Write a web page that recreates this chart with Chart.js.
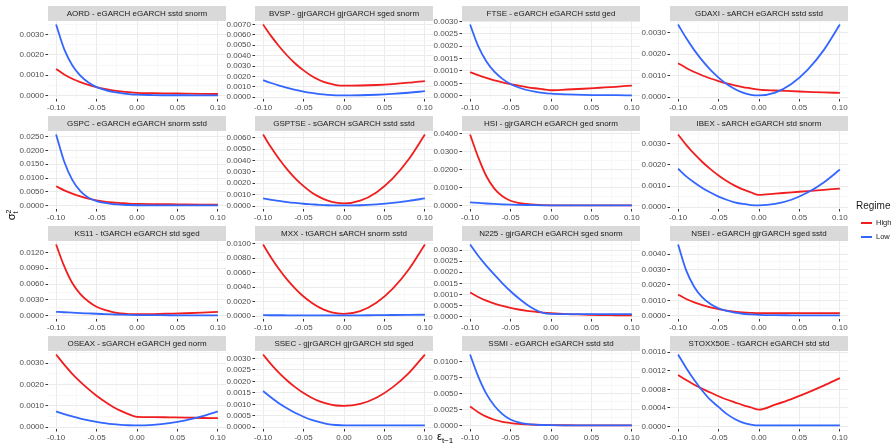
<!DOCTYPE html>
<html>
<head>
<meta charset="utf-8">
<script src="https://cdn.jsdelivr.net/npm/chart.js@4.4.1/dist/chart.umd.min.js"></script>
<style>
  body { margin: 0; background: #fff; font-family: "Liberation Sans", Arial, sans-serif; }
  #page { position: relative; width: 894px; height: 447px; overflow: hidden; background: #fff; }
  #page canvas { position: absolute; }
  .strip { position: absolute; width: 178px; height: 15px; line-height: 15px; background: #d9d9d9;
           color: #1a1a1a; font-size: 8px; text-align: center; white-space: nowrap; z-index: 2;
           will-change: transform; }
  .xtitle { position: absolute; left: 437px; top: 430px; font-size: 11px; color: #000; }
  .xtitle sub { font-size: 8px; vertical-align: -3px; }
  .ytitle { position: absolute; left: -3px; top: 208px; font-size: 11px; color: #000;
            transform: rotate(-90deg); transform-origin: center; width: 30px; text-align: center; }
  .ss { display: inline-block; vertical-align: -3px; font-size: 7px; line-height: 7px; text-align: left; }
  .legend { position: absolute; left: 856px; top: 200px; color: #1a1a1a; }
  .legend .ttl { font-size: 10px; margin-bottom: 5px; }
  .legend .item { font-size: 7.5px; height: 14px; line-height: 14px; white-space: nowrap; }
  .legend .key { display: inline-block; width: 11px; height: 2px; vertical-align: middle; margin: 0 4px 0 5px; }
</style>
</head>
<body>
<div id="page"></div>
<script>
// news impact: sigma^2_t against eps_{t-1}
const epsilon = [-0.10, -0.09, -0.08, -0.07, -0.06, -0.05, -0.04, -0.03, -0.02, -0.01, 0, 0.02, 0.04, 0.06, 0.08, 0.10];
const xTicks = [-0.10, -0.05, 0, 0.05, 0.10];

const panelTitles = [
  'AORD - eGARCH eGARCH sstd snorm', 'BVSP - gjrGARCH gjrGARCH sged snorm',
  'FTSE - eGARCH eGARCH sstd ged', 'GDAXI - sARCH eGARCH sstd sstd',
  'GSPC - eGARCH eGARCH snorm sstd', 'GSPTSE - sGARCH sGARCH sstd sstd',
  'HSI - gjrGARCH eGARCH ged snorm', 'IBEX - sARCH eGARCH std snorm',
  'KS11 - tGARCH eGARCH std sged', 'MXX - tGARCH sARCH snorm sstd',
  'N225 - gjrGARCH eGARCH sged snorm', 'NSEI - eGARCH gjrGARCH sged sstd',
  'OSEAX - sGARCH eGARCH ged norm', 'SSEC - gjrGARCH gjrGARCH std sged',
  'SSMI - eGARCH eGARCH sstd std', 'STOXX50E - tGARCH eGARCH std std'
];
// y tick spacing per panel
const tickSteps = [0.001, 0.001, 0.0005, 0.001, 0.005, 0.001, 0.01, 0.001,
                   0.003, 0.002, 0.0005, 0.001, 0.001, 0.0005, 0.0025, 0.0004];

const aordHigh = [0.00131, 0.00104, 0.00083, 0.00066, 0.00053, 0.00042, 0.00033, 0.00026, 0.00021, 0.00017, 0.00014, 0.00012, 0.00011, 0.00010, 0.00009, 0.00008];
const aordLow  = [0.00348, 0.00228, 0.00149, 0.00098, 0.00064, 0.00042, 0.00028, 0.00018, 0.00012, 0.00008, 0.00005, 0.00003, 0.00002, 0.00002, 0.00001, 0.00001];
const bvspHigh = [0.0070, 0.00588, 0.00488, 0.00399, 0.00322, 0.00258, 0.00204, 0.00163, 0.00134, 0.00116, 0.0011, 0.00112, 0.00117, 0.00126, 0.00139, 0.00155];
const bvspLow  = [0.00164, 0.00136, 0.00111, 0.00089, 0.00069, 0.00053, 0.0004, 0.00029, 0.00022, 0.00017, 0.00016, 0.00018, 0.00023, 0.00031, 0.00042, 0.00057];
const ftseHigh = [0.00095, 0.00083, 0.00072, 0.00062, 0.00054, 0.00047, 0.00041, 0.00035, 0.0003, 0.00026, 0.00022, 0.00025, 0.00028, 0.00032, 0.00036, 0.00041];
const ftseLow  = [0.00287, 0.002, 0.00139, 0.00097, 0.00068, 0.00047, 0.00033, 0.00023, 0.00016, 0.00011, 0.00008, 0.00005, 0.00003, 0.00002, 0.00002, 0.00001];
const gdaxiHigh = [0.00158, 0.00136, 0.00117, 0.00101, 0.00087, 0.00075, 0.00064, 0.00055, 0.00047, 0.00041, 0.00035, 0.00031, 0.00028, 0.00025, 0.00022, 0.0002];
const gdaxiLow  = [0.00338, 0.00275, 0.00219, 0.0017, 0.00127, 0.00091, 0.00061, 0.00038, 0.00021, 0.00011, 0.00008, 0.00021, 0.00061, 0.00127, 0.00219, 0.00338];
const gspcHigh = [0.0070, 0.0055, 0.0043, 0.0033, 0.0025, 0.0019, 0.0014, 0.0011, 0.0009, 0.0007, 0.0006, 0.0005, 0.00045, 0.0004, 0.00035, 0.0003];
const gspcLow  = [0.0258, 0.0160, 0.0093, 0.0052, 0.0028, 0.0016, 0.00093, 0.00053, 0.0003, 0.00018, 0.0001, 0.00005, 0.00003, 0.00002, 0.00002, 0.00002];
const gsptseHigh = [0.00629, 0.00514, 0.00411, 0.0032, 0.00241, 0.00175, 0.0012, 0.00078, 0.00047, 0.00029, 0.00023, 0.00047, 0.0012, 0.00241, 0.00411, 0.00629];
const gsptseLow  = [0.00067, 0.00055, 0.00045, 0.00035, 0.00027, 0.0002, 0.00015, 0.0001, 0.00007, 0.00006, 0.00005, 0.00007, 0.00015, 0.00027, 0.00045, 0.00067];
const hsiHigh = [0.0396, 0.027, 0.0165, 0.0095, 0.0052, 0.0027, 0.0015, 0.0009, 0.0005, 0.0003, 0.0002, 0.00015, 0.00012, 0.0001, 0.0001, 0.0001];
const hsiLow  = [0.0018, 0.0015, 0.0012, 0.00095, 0.00075, 0.00058, 0.00045, 0.00035, 0.00027, 0.0002, 0.00015, 0.00012, 0.0001, 0.0001, 0.0001, 0.0001];
const ibexHigh = [0.00344, 0.00295, 0.00252, 0.00214, 0.0018, 0.0015, 0.00124, 0.00102, 0.00084, 0.0007, 0.00058, 0.00064, 0.0007, 0.00076, 0.00082, 0.00088];
const ibexLow  = [0.00182, 0.00146, 0.00117, 0.00091, 0.00069, 0.0005, 0.00035, 0.00023, 0.00015, 0.0001, 0.00008, 0.00015, 0.00035, 0.00069, 0.00117, 0.00178];
const ks11High = [0.0135, 0.0094, 0.0062, 0.0041, 0.0027, 0.0017, 0.0011, 0.0007, 0.00045, 0.00033, 0.0003, 0.00033, 0.0004, 0.00048, 0.0006, 0.00075];
const ks11Low  = [0.00075, 0.00067, 0.0006, 0.00052, 0.00045, 0.00038, 0.00032, 0.00026, 0.0002, 0.00016, 0.00013, 0.00011, 0.0001, 0.00008, 0.00007, 0.00006];
const mxxHigh = [0.0099, 0.00808, 0.00644, 0.005, 0.00376, 0.0027, 0.00184, 0.00116, 0.00068, 0.0004, 0.0003, 0.00068, 0.00184, 0.00376, 0.00644, 0.0099];
const mxxLow  = [0.00012, 0.00011, 0.00011, 0.0001, 0.0001, 0.0001, 0.00009, 0.00009, 0.00009, 0.00008, 0.00008, 0.0001, 0.00012, 0.00014, 0.00016, 0.00018];
const n225High = [0.00108, 0.00088, 0.00071, 0.00058, 0.00047, 0.00038, 0.00031, 0.00025, 0.00021, 0.00017, 0.00014, 0.0001, 0.00008, 0.00006, 0.00005, 0.00004];
const n225Low  = [0.00326, 0.00275, 0.0023, 0.00189, 0.0015, 0.00114, 0.00082, 0.00054, 0.00031, 0.00016, 0.00011, 0.0001, 0.0001, 0.0001, 0.0001, 0.0001];
const nseiHigh = [0.00138, 0.00109, 0.00087, 0.00069, 0.00054, 0.00043, 0.00034, 0.00027, 0.00022, 0.00019, 0.00017, 0.00017, 0.00017, 0.00017, 0.00017, 0.00017];
const nseiLow  = [0.00462, 0.00294, 0.00187, 0.00119, 0.00076, 0.00048, 0.00031, 0.0002, 0.00013, 0.00009, 0.00006, 0.00004, 0.00003, 0.00002, 0.00002, 0.00002];
const oseaxHigh = [0.0034, 0.00293, 0.0025, 0.00212, 0.00178, 0.00147, 0.0012, 0.00096, 0.00076, 0.0006, 0.00048, 0.00047, 0.00046, 0.00045, 0.00043, 0.00042];
const oseaxLow  = [0.00074, 0.00061, 0.0005, 0.0004, 0.00032, 0.00025, 0.00019, 0.00014, 0.00011, 0.00009, 0.00008, 0.00011, 0.00019, 0.00032, 0.0005, 0.00074];
const ssecHigh = [0.00317, 0.00274, 0.00236, 0.00203, 0.00174, 0.00149, 0.00129, 0.00113, 0.00102, 0.00095, 0.00093, 0.00102, 0.00129, 0.00174, 0.00236, 0.00317];
const ssecLow  = [0.00158, 0.0013, 0.00104, 0.00082, 0.00062, 0.00046, 0.00032, 0.00022, 0.00014, 0.0001, 0.00008, 0.00008, 0.00008, 0.00008, 0.00008, 0.00008];
const ssmiHigh = [0.0030, 0.0021, 0.0014, 0.00092, 0.0006, 0.00041, 0.00028, 0.0002, 0.00014, 0.0001, 0.00008, 0.00006, 0.00005, 0.00004, 0.00004, 0.00003];
const ssmiLow  = [0.0111, 0.0077, 0.005, 0.0031, 0.0018, 0.00095, 0.0005, 0.00028, 0.00016, 0.0001, 0.00007, 0.00005, 0.00004, 0.00003, 0.00003, 0.00003];
const stoxxHigh = [0.00111, 0.001, 0.0009, 0.00081, 0.00073, 0.00065, 0.00058, 0.00052, 0.00046, 0.00041, 0.00036, 0.00047, 0.00059, 0.00073, 0.00088, 0.00104];
const stoxxLow  = [0.00155, 0.00126, 0.001, 0.00077, 0.00057, 0.00042, 0.00027, 0.00016, 0.00008, 0.00004, 0.00002, 0.00002, 0.00002, 0.00002, 0.00002, 0.00002];

const highSeries = [aordHigh, bvspHigh, ftseHigh, gdaxiHigh, gspcHigh, gsptseHigh, hsiHigh, ibexHigh,
                    ks11High, mxxHigh, n225High, nseiHigh, oseaxHigh, ssecHigh, ssmiHigh, stoxxHigh];
const lowSeries = [aordLow, bvspLow, ftseLow, gdaxiLow, gspcLow, gsptseLow, hsiLow, ibexLow,
                   ks11Low, mxxLow, n225Low, nseiLow, oseaxLow, ssecLow, ssmiLow, stoxxLow];

const HIGH_COL = '#F01E1E';
const LOW_COL = '#3366FF';
const FONT = '"Liberation Sans", Arial, sans-serif';

// facet geometry
const PANEL_W = 178, PANEL_H = 78;
const AXIS_W = 40, AXIS_H = 16, PAD_T = 10, PAD_R = 12;
const page = document.getElementById('page');

function isMinor(ctx) { return ctx.tick && ctx.tick.minor; }

const gridOpts = {
  color: ctx => isMinor(ctx) ? '#f3f3f3' : '#ebebeb',
  lineWidth: ctx => isMinor(ctx) ? 0.6 : 1,
  tickColor: ctx => isMinor(ctx) ? 'rgba(0,0,0,0)' : '#333333',
  tickLength: 2.5,
  drawTicks: true
};

panelTitles.forEach((title, p) => {
  const col = p % 4, row = Math.floor(p / 4);
  const left = 48 + col * 207.2;
  const top = 20.5 + row * 110;

  const strip = document.createElement('div');
  strip.className = 'strip';
  strip.style.left = left + 'px';
  strip.style.top = (top - 15) + 'px';
  strip.textContent = title;
  page.appendChild(strip);

  const cv = document.createElement('canvas');
  cv.width = AXIS_W + PANEL_W + PAD_R;
  cv.height = PAD_T + PANEL_H + AXIS_H;
  cv.style.left = (left - AXIS_W) + 'px';
  cv.style.top = (top - PAD_T) + 'px';
  page.appendChild(cv);

  const high = highSeries[p], low = lowSeries[p];
  const all = high.concat(low);
  const lo = Math.min(...all), hi = Math.max(...all);
  const ex = (hi - lo) * 0.05;
  const yMin = lo - ex, yMax = hi + ex;
  const step = tickSteps[p];

  new Chart(cv, {
    type: 'line',
    data: {
      datasets: [
        { label: 'High', order: 1, data: epsilon.map((x, i) => ({ x, y: high[i] })),
          borderColor: HIGH_COL, borderWidth: 1.8, pointRadius: 0, cubicInterpolationMode: 'monotone' },
        { label: 'Low', order: 0, data: epsilon.map((x, i) => ({ x, y: low[i] })),
          borderColor: LOW_COL, borderWidth: 1.8, pointRadius: 0, cubicInterpolationMode: 'monotone' }
      ]
    },
    options: {
      responsive: false,
      animation: false,
      events: [],
      layout: { padding: { top: PAD_T, right: PAD_R, left: 0, bottom: 0 } },
      plugins: { legend: { display: false }, tooltip: { enabled: false } },
      scales: {
        x: {
          type: 'linear', min: -0.11, max: 0.11,
          afterBuildTicks: s => {
            const t = xTicks.map(v => ({ value: v }));
            [-0.075, -0.025, 0.025, 0.075].forEach(v => t.push({ value: v, minor: true }));
            s.ticks = t.sort((a, b) => a.value - b.value);
          },
          afterFit: s => { s.height = AXIS_H; },
          grid: gridOpts,
          border: { display: false },
          ticks: {
            color: '#4d4d4d', padding: 1, maxRotation: 0, autoSkip: false,
            font: { family: FONT, size: 8 },
            callback: (v, i, ticks) => ticks[i].minor ? '' : v.toFixed(2)
          }
        },
        y: {
          type: 'linear', min: yMin, max: yMax,
          afterBuildTicks: s => {
            const t = [];
            for (let k = Math.ceil(yMin / step); k * step <= yMax; k++) t.push({ value: k * step });
            for (let k = Math.floor(yMin / step); k * step <= yMax; k++) {
              const v = (k + 0.5) * step;
              if (v >= yMin && v <= yMax) t.push({ value: v, minor: true });
            }
            s.ticks = t.sort((a, b) => a.value - b.value);
          },
          afterFit: s => { s.width = AXIS_W; },
          grid: gridOpts,
          border: { display: false },
          ticks: {
            color: '#4d4d4d', padding: 1.5, autoSkip: false,
            font: { family: FONT, size: 8 },
            callback: (v, i, ticks) => ticks[i].minor ? '' : Math.abs(v).toFixed(4)
          }
        }
      }
    }
  });
});

// axis titles and legend
const xt = document.createElement('div');
xt.className = 'xtitle';
xt.innerHTML = '&epsilon;<sub>t&minus;1</sub>';
page.appendChild(xt);

const yt = document.createElement('div');
yt.className = 'ytitle';
yt.innerHTML = '&sigma;<span class="ss">2<br>t</span>';
page.appendChild(yt);

const lg = document.createElement('div');
lg.className = 'legend';
lg.innerHTML = '<div class="ttl">Regime</div>' +
  '<div class="item"><span class="key" style="background:' + HIGH_COL + '"></span>High</div>' +
  '<div class="item"><span class="key" style="background:' + LOW_COL + '"></span>Low</div>';
page.appendChild(lg);
</script>
</body>
</html>
